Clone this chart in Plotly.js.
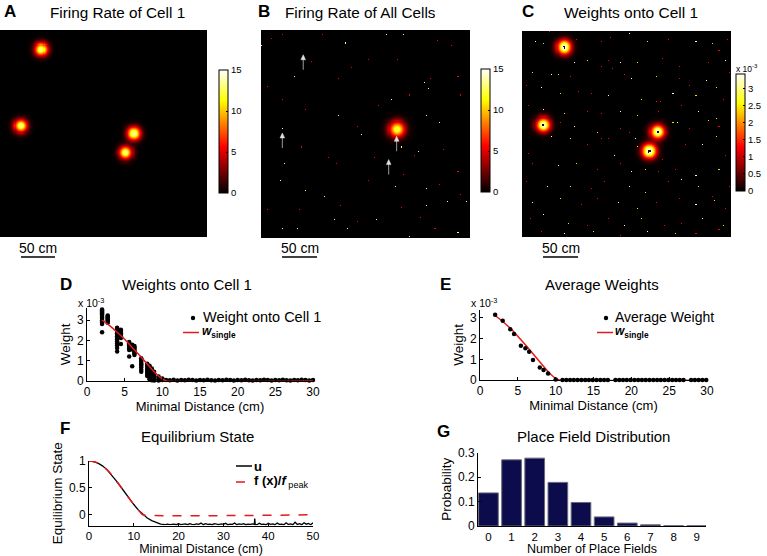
<!DOCTYPE html>
<html><head><meta charset="utf-8">
<script src="https://cdn.plot.ly/plotly-3.0.1.min.js"></script>
<style>html,body{margin:0;padding:0;background:#fff}#chart{width:767px;height:556px}</style>
</head><body><div id="chart"></div>
<script>
// ---------------- DATA ----------------
// Arena coordinates run 0..100 on both axes (y from the top)
const arenaSize = 100;

// Panel A: place fields of cell 1 (arena coordinates, rate Hz)
const fieldAX = [20, 10, 64.7, 60.7];
const fieldAY = [9.3, 46.4, 50, 59.3];
const fieldAPeak = [13.5, 13.5, 13.5, 13.5];
const fieldASigma = [2.2, 2.2, 2.2, 2.2];

// Panel B: population activity bump
const fieldBX = [65.1];
const fieldBY = [47.7];
const fieldBPeak = [12.5];
const fieldBSigma = [2.7];
const specksBBright = [[16,22],[37,41],[48,50],[67,56],[79,41],[80,28],[75,58],[11,64],[9,72],[30,80],[35,91],[17,95],[10,95],[41,95],[55,91],[71,99],[94,97],[89,82],[79,76],[64,75],[62,33],[40,6],[60,2],[78,25],[10,47],[68,2],[85,44],[21,77],[79,84],[98,82],[0,7]];
const specksBDim = [[94,22],[95,31],[5,4],[10,2],[29,2],[51,14],[65,14],[84,5],[91,7],[24,15],[37,23],[43,18],[3,27],[10,33],[21,38],[56,36],[46,46],[19,56],[73,60],[87,57],[32,61],[36,64],[68,69],[51,72],[85,74],[94,68],[3,86],[18,86],[38,84],[67,85],[76,90],[46,92],[83,95],[95,79],[54,61],[71,31],[81,23]];
const arrowBX = [20.2, 10.2, 64.9, 61.1];
const arrowBY = [11.9, 49.5, 51.1, 62.3];

// Panel C: weights onto cell 1 (units of 1e-3)
const fieldCX = [20.2, 10.2, 64.9, 60.9];
const fieldCY = [7.8, 45.5, 48.9, 58.3];
const fieldCPeak = [3.44, 3.44, 3.44, 3.44];
const fieldCSigma = [2.4, 2.4, 2.4, 2.4];
const specksCBright = [[6,5],[51,1],[83,5],[25,15],[47,15],[97,14],[14,21],[52,23],[88,24],[9,27],[41,31],[72,30],[10,38],[47,39],[84,39],[25,46],[54,52],[74,44],[14,51],[44,60],[86,55],[17,65],[52,68],[83,70],[12,75],[51,75],[76,72],[5,83],[46,83],[83,84],[10,89],[49,94],[86,91],[20,98],[60,97]];
const specksCMid = [[10,6],[60,5],[91,6],[31,14],[55,15],[5,20],[17,21],[64,22],[93,27],[18,30],[57,33],[83,31],[20,40],[55,41],[93,42],[36,49],[72,44],[89,43],[23,52],[55,56],[93,51],[26,64],[59,67],[94,67],[23,75],[59,78],[84,75],[18,81],[55,86],[92,82],[22,93],[57,91],[96,94],[34,97],[73,98]];
const specksCRed = [[13,0],[26,4],[38,5],[42,3],[70,4],[94,9],[98,4],[38,17],[41,14],[67,13],[75,17],[89,15],[23,22],[43,18],[49,21],[75,23],[80,26],[99,20],[2,26],[27,29],[33,30],[64,34],[66,34],[96,33],[3,36],[31,39],[38,40],[65,39],[76,36],[18,44],[41,52],[47,47],[51,49],[80,47],[94,46],[3,59],[31,55],[38,52],[67,62],[78,55],[97,60],[5,64],[36,67],[47,64],[65,68],[73,67],[2,73],[33,76],[39,73],[70,73],[91,80],[99,75],[28,84],[36,81],[64,83],[75,81],[97,86],[4,91],[31,94],[41,91],[68,94],[76,93],[9,97],[47,99],[83,98],[94,96]];

// Panel D: weights onto cell 1 vs minimal distance (x 1e-3)
const distD = [2,2,2,2,2,2,2,2,2,2,2,2,2,2,
  2.75,2.75,2.75,2.75,2.75,2.75,2.75,2.75,
  4,4,4,4,4,4,4,4,4,4,4,4,4,4,
  4.5,4.5,4.5,4.5,4.5,4.5,4.5,4.5,
  5.6,5.6,5.6,5.6,5.6,5.6,5.6,5.6,
  6,6,6,6,6,
  6.3,6.3,6.3,6.3,6.3,6.3,6.3,
  7.2,7.2,7.2,7.2,7.2,7.2,7.2,7.2,7.2,
  8,8,8,8,8,8,8,8,8,
  8.3,8.3,8.3,8.3,8.3,8.3,8.3,8.3,8.3,8.3,
  8.6,8.6,8.6,8.6,8.6,8.6,8.6,8.6,8.6,
  8.9,8.9,8.9,8.9,8.9,8.9,8.9,
  9.5,9.5,9.5,9.5,
  10,10,
  10.5,11,11.5,12,12.5,13,13.5,14,14.5,15,15.5,16,16.5,17,17.5,18,18.5,19,19.5,20,
  20.5,21,21.5,22,22.5,23,23.5,24,24.5,25,25.5,26,26.5,27,27.5,28,28.5,29,29.5,30];
const weightD = [3.52,3.47,3.42,3.37,3.32,3.27,3.2,3.12,3.05,2.98,2.92,2.87,2.8,2.4,
  3.22,3.17,3.12,3.07,3.02,2.97,2.92,2.87,
  2.62,2.57,2.5,2.42,2.35,2.28,2.2,2.12,2.05,1.95,1.85,1.75,1.62,1.45,
  2.52,2.47,2.42,2.35,2.28,2.2,2.12,1.82,
  1.92,1.86,1.8,1.74,1.68,1.6,1.53,1.2,
  1.78,1.7,1.62,1.55,0.72,
  1.72,1.65,1.58,1.5,1.42,1.35,1.28,
  1.12,1.05,0.98,0.9,0.82,0.75,0.66,0.55,0.46,
  0.85,0.78,0.7,0.62,0.55,0.48,0.4,0.32,0.24,
  0.75,0.68,0.6,0.52,0.45,0.38,0.3,0.22,0.15,0.08,
  0.62,0.55,0.47,0.4,0.32,0.25,0.18,0.1,0.04,
  0.45,0.38,0.3,0.22,0.15,0.08,0.02,
  0.22,0.15,0.08,0.03,
  0.12,0.05,
  0.05,0.04,0.06,0.03,0.05,0.04,0.06,0.05,0.03,0.05,0.04,0.06,0.04,0.03,0.05,0.04,0.06,0.05,0.03,0.05,
  0.04,0.06,0.04,0.03,0.05,0.04,0.06,0.05,0.03,0.05,0.04,0.06,0.04,0.03,0.05,0.04,0.06,0.05,0.03,0.05];
const wSingleDistD = [2,3,4,5,6,7,8,9,10,10.5,30];
const wSingleD = [3.0,2.72,2.4,2.05,1.65,1.25,0.83,0.42,0.1,0,0];

// Panel E: average weights (x 1e-3)
const distE = [2,3,4,4.5,5.4,6,6.5,7,7.9,8.4,9,10,
  10.9,11.4,11.9,12.4,12.9,13.4,13.9,14.4,14.9,15.4,15.9,16.4,16.9,
  17.9,18.4,18.9,19.4,19.9,20.4,20.9,21.4,21.9,22.4,22.9,23.4,23.9,24.4,24.9,25.4,25.9,26.4,26.9,
  27.9,28.4,28.9,29.4,29.9];
const avgWeightE = [3.15,2.87,2.45,2.23,1.66,1.53,1.37,0.97,0.61,0.48,0.32,0.03,
  0,0,0,0,0,0,0,0,0,0,0,0,0,
  0,0,0,0,0,0,0,0,0,0,0,0,0,0,0,0,0,0,0,
  0,0,0,0,0];
const wSingleDistE = [2,3,4,5,6,7,8,9,10,10.5,30];
const wSingleE = [3.12,2.83,2.5,2.12,1.7,1.27,0.83,0.4,0.08,0,0];

// Panel F: equilibrium state
const distU = [0,1,2,3,4,5,6,7,8,9,10,11,12,13,14,14.5,15,15.5,16,16.5,17,17.5,18,18.5,19,19.5,20,20.5,21,21.5,22,22.5,23,23.5,24,24.5,25,25.5,26,26.5,27,27.5,28,28.5,29,29.5,30,30.5,31,31.5,32,32.5,33,33.5,34,34.5,35,35.5,36,36.5,36.9,37,37.1,37.5,38,38.5,39,39.5,40,40.5,41,41.5,42,42.5,43,43.5,44,44.5,45,45.5,46,46.5,47,47.5,48,48.5,49,49.5,50];
const uValues = [1.0,0.99,0.96,0.91,0.84,0.75,0.64,0.53,0.41,0.30,0.19,0.09,0.01,-0.06,-0.11,-0.13,-0.15,-0.165,-0.175,-0.18,-0.185,-0.175,-0.185,-0.18,-0.175,-0.185,-0.165,-0.185,-0.18,-0.17,-0.185,-0.165,-0.18,-0.185,-0.17,-0.18,-0.155,-0.185,-0.165,-0.18,-0.175,-0.185,-0.165,-0.18,-0.185,-0.17,-0.18,-0.16,-0.185,-0.175,-0.18,-0.155,-0.185,-0.17,-0.18,-0.165,-0.185,-0.175,-0.18,-0.17,-0.18,-0.07,-0.18,-0.185,-0.16,-0.18,-0.175,-0.185,-0.16,-0.18,-0.17,-0.185,-0.155,-0.18,-0.175,-0.185,-0.15,-0.18,-0.17,-0.185,-0.14,-0.18,-0.165,-0.185,-0.15,-0.175,-0.16,-0.185,-0.15];
const distF = [0,1,2,3,4,5,6,7,8,9,10,11,12,50];
const fNormValues = [1.0,0.99,0.96,0.91,0.84,0.75,0.64,0.53,0.41,0.30,0.19,0.09,0,0];

// Panel G: place field distribution
const numFields = [0,1,2,3,4,5,6,7,8,9];
const probFields = [0.135,0.27,0.277,0.178,0.096,0.037,0.012,0.005,0.001,0.001];

// ---------------- BUILD ----------------
const W = 767, H = 556;
const px = v => v / W;
const py = v => 1 - v / H;
const FONT = 'Liberation Sans, Arial, Helvetica, sans-serif';
const N = 200;               // heatmap bins per side
const binSize = arenaSize / N;

function buildGrid(fx, fy, peak, sigma, speckSets, holeRadius) {
  const z = [];
  for (let r = 0; r < N; r++) {
    const yy = (r + 0.5) * binSize;
    const row = [];
    for (let c = 0; c < N; c++) {
      const xx = (c + 0.5) * binSize;
      let v = 0;
      for (let k = 0; k < fx.length; k++) {
        const d2 = (xx - fx[k]) ** 2 + (yy - fy[k]) ** 2;
        if (holeRadius && d2 < holeRadius * holeRadius) { v = 0.1; break; }
        v += peak[k] * Math.exp(-d2 / (2 * sigma[k] * sigma[k]));
      }
      row.push(v);
    }
    z.push(row);
  }
  speckSets.forEach(([list, val]) => list.forEach(([sx, sy]) => {
    const c = Math.min(N - 1, Math.floor(sx / binSize)), r = Math.min(N - 1, Math.floor(sy / binSize));
    z[r][c] = Math.max(z[r][c], val);
  }));
  return z;
}

const hot = [[0,'#000000'],[0.375,'#ff0000'],[0.75,'#ffff00'],[1,'#ffffff']];
function cbar(xPx, yTop, yBot, vals, texts) {
  return {x: px(xPx), xanchor:'left', y: py((yTop + yBot) / 2), yanchor:'middle',
    len: yBot - yTop, lenmode:'pixels', thickness: 9, thicknessmode:'pixels',
    outlinewidth: 1, outlinecolor:'#000', tickvals: vals, ticktext: texts,
    ticks:'inside', ticklen: 2, tickcolor:'#000', tickfont:{size: 9.5, color:'#000', family: FONT},
    xpad: 0, ypad: 0};
}

const zA = buildGrid(fieldAX, fieldAY, fieldAPeak, fieldASigma, [], 0);
const zB = buildGrid(fieldBX, fieldBY, fieldBPeak, fieldBSigma, [[specksBBright, 13], [specksBDim, 5.5]], 0);
const zC = buildGrid(fieldCX, fieldCY, fieldCPeak, fieldCSigma, [[specksCBright, 3.3], [specksCMid, 2.4], [specksCRed, 1.3]], 0.55);

const red = '#e31a1c';
const hm = (z, xa, ya, zmax, cb) => ({type:'heatmap', z: z, x0: binSize / 2, dx: binSize, y0: binSize / 2, dy: binSize,
  xaxis: xa, yaxis: ya, colorscale: hot, zmin: 0, zmax: zmax, zsmooth: false, hoverinfo:'skip', colorbar: cb});
const traces = [
  hm(zA, 'x', 'y', 15, cbar(219, 70, 193, [0,5,10,15], ['0','5','10','15'])),
  hm(zB, 'x2', 'y2', 15, cbar(481, 69, 192, [0,5,10,15], ['0','5','10','15'])),
  hm(zC, 'x3', 'y3', 3.44, cbar(736, 74, 191, [0,0.5,1,1.5,2,2.5,3], ['0','0.5','1','1.5','2','2.5','3'])),
  // D
  {type:'scatter', mode:'markers', x: distD, y: weightD, xaxis:'x4', yaxis:'y4', name:'Weight onto Cell 1',
   marker:{color:'#000', size: 4.5}, showlegend:false, cliponaxis:false},
  {type:'scatter', mode:'lines', x: wSingleDistD, y: wSingleD, xaxis:'x4', yaxis:'y4', showlegend:false,
   line:{color: red, width: 1.5, shape:'spline', smoothing: 0.4}, name:'w single'},
  // E
  {type:'scatter', mode:'lines', x: wSingleDistE, y: wSingleE, xaxis:'x5', yaxis:'y5', showlegend:false,
   line:{color: red, width: 1.5, shape:'spline', smoothing: 0.4}, name:'w single'},
  {type:'scatter', mode:'markers', x: distE, y: avgWeightE, xaxis:'x5', yaxis:'y5', name:'Average Weight',
   marker:{color:'#000', size: 4.5}, showlegend:false, cliponaxis:false},
  // F
  {type:'scatter', mode:'lines', x: distU, y: uValues, xaxis:'x6', yaxis:'y6', name:'u', showlegend:false,
   line:{color:'#000', width: 1.3}},
  {type:'scatter', mode:'lines', x: distF, y: fNormValues, xaxis:'x6', yaxis:'y6', name:'f(x)/f peak', showlegend:false,
   line:{color: red, width: 1.5, dash:'dash', shape:'spline', smoothing: 0.3}},
  // G
  {type:'bar', x: numFields, y: probFields, xaxis:'x7', yaxis:'y7', width: 0.85, showlegend: false,
   marker:{color:'#0c0c4c', line:{color:'#6a6a7a', width: 1}}}
];

const hidden = {visible:false, fixedrange:true};
const axBase = {showgrid:false, zeroline:false, showline:true, linecolor:'#000', linewidth:1,
  ticks:'inside', ticklen: 3, tickcolor:'#000', tickfont:{size: 12, color:'#000', family: FONT}, fixedrange:true};
const bottomTicks = {tickfont:{size: 11.5, color:'#000', family: FONT}, ticklabelstandoff: 0};
function xTitle(t, s, fs) { return {text: t, font:{size: fs || 13, color:'#000', family: FONT}, standoff: s}; }
function yTitle(t) { return {text: t, font:{size: 13.5, color:'#000', family: FONT}, standoff: 3}; }

const layout = {
  width: W, height: H, margin:{l:0, r:0, t:0, b:0}, paper_bgcolor:'#fff', plot_bgcolor:'rgba(0,0,0,0)',
  font:{family: FONT, color:'#000'}, showlegend:false,
  xaxis: Object.assign({domain:[px(0), px(207)], range:[0, 100], anchor:'y'}, hidden),
  yaxis: Object.assign({domain:[py(237), py(30)], range:[100, 0], anchor:'x'}, hidden),
  xaxis2: Object.assign({domain:[px(261), px(470)], range:[0, 100], anchor:'y2'}, hidden),
  yaxis2: Object.assign({domain:[py(238), py(30)], range:[100, 0], anchor:'x2'}, hidden),
  xaxis3: Object.assign({domain:[px(522), px(731)], range:[0, 100], anchor:'y3'}, hidden),
  yaxis3: Object.assign({domain:[py(237), py(31)], range:[100, 0], anchor:'x3'}, hidden),
  xaxis4: Object.assign({}, axBase, {domain:[px(87), px(313)], range:[0, 30], tickvals:[0,5,10,15,20,25,30], anchor:'y4', title: xTitle('Minimal Distance (cm)', 0)}),
  yaxis4: Object.assign({}, axBase, {domain:[py(381), py(307.8)], range:[0, 3.6], tickvals:[0,1,2,3], anchor:'x4', title: yTitle('Weight')}),
  xaxis5: Object.assign({}, axBase, {domain:[px(480), px(707)], range:[0, 30], tickvals:[0,5,10,15,20,25,30], anchor:'y5', title: xTitle('Minimal Distance (cm)', 0)}),
  yaxis5: Object.assign({}, axBase, {domain:[py(380), py(309.7)], range:[0, 3.4], tickvals:[0,1,2,3], anchor:'x5', title: yTitle('Weight')}),
  xaxis6: Object.assign({}, axBase, bottomTicks, {domain:[px(89), px(313)], range:[0, 50], tickvals:[0,10,20,30,40,50], anchor:'y6', title: xTitle('Minimal Distance (cm)', 0, 12.5)}),
  yaxis6: Object.assign({}, axBase, {domain:[py(525.5), py(461)], range:[-0.2, 1], tickvals:[0,0.5,1], ticktext:['0','0.5','1'], anchor:'x6', title: yTitle('Equilibrium State')}),
  xaxis7: Object.assign({}, axBase, bottomTicks, {domain:[px(478), px(706)], range:[-0.45, 9.4], tickvals: numFields, ticks:'',
    anchor:'y7', title: xTitle('Number of Place Fields', 0, 12.5)}),
  yaxis7: Object.assign({}, axBase, {domain:[py(526), py(452.5)], range:[0, 0.3], tickvals:[0,0.1,0.2,0.3], ticktext:['0','0.1','0.2','0.3'], anchor:'x7', title: yTitle('Probability')}),
  shapes: [],
  annotations: []
};

const S = layout.shapes;
const lineP = (x0, y0, x1, y1, color, width, dash) => ({type:'line', xref:'paper', yref:'paper',
  x0: px(x0), x1: px(x1), y0: py(y0), y1: py(y1), line:{color: color, width: width, dash: dash || 'solid'}});
// scale bars
S.push(lineP(21, 257, 55, 257, '#000', 1.5));
S.push(lineP(282, 257, 317, 257, '#000', 1.5));
S.push(lineP(543, 257, 578, 257, '#000', 1.5));
// legend samples
const dot = (cx, cy) => ({type:'circle', xref:'paper', yref:'paper', x0: px(cx - 2.2), x1: px(cx + 2.2),
  y0: py(cy + 2.2), y1: py(cy - 2.2), fillcolor:'#000', line:{width: 0}});
S.push(dot(193, 318));
S.push(lineP(183, 332.5, 199, 332.5, red, 1.5));
S.push(dot(606, 318));
S.push(lineP(597, 332.5, 613, 332.5, red, 1.5));
S.push(lineP(236, 466, 252, 466, '#000', 1.5));
S.push(lineP(236, 482, 252, 482, red, 1.5, 'dash'));
// arrows in B (data coords of the arena)
arrowBX.forEach((ax, i) => {
  const ay = arrowBY[i];
  S.push({type:'line', xref:'x2', yref:'y2', x0: ax, x1: ax, y0: ay + 7.2, y1: ay + 1.8, line:{color:'#9a9a9a', width: 1}});
  S.push({type:'path', xref:'x2', yref:'y2', path:`M ${ax - 1.1} ${ay + 2.4} L ${ax} ${ay} L ${ax + 1.1} ${ay + 2.4} Z`,
    fillcolor:'#e0e0e0', line:{color:'#e0e0e0', width: 0.5}});
});

function ann(x, y, text, size, opts) {
  return Object.assign({xref:'paper', yref:'paper', x: px(x), y: py(y), text: text, showarrow:false,
    xanchor:'center', yanchor:'middle', font:{size: size, color:'#000', family: FONT}}, opts || {});
}
const A = layout.annotations;
// panel letters
[['A',9.5,12],['B',263.5,12],['C',527.5,12],['D',65.5,284],['E',445,284],['F',65,428],['G',443.5,431]]
  .forEach(([t,x,y]) => A.push(ann(x, y, '<b>' + t + '</b>', 17)));
// panel titles
A.push(ann(117, 12.5, 'Firing Rate of Cell 1', 15.3));
A.push(ann(360, 12.5, 'Firing Rate of All Cells', 15.3));
A.push(ann(631, 12.5, 'Weights onto Cell 1', 15.5));
A.push(ann(187, 284, 'Weights onto Cell 1', 15));
A.push(ann(602, 284, 'Average Weights', 15));
A.push(ann(197, 436, 'Equilibrium State', 15));
A.push(ann(593, 436, 'Place Field Distribution', 15));
// scale bar labels
A.push(ann(38, 248, '50 cm', 14));
A.push(ann(299.5, 248, '50 cm', 14));
A.push(ann(560.5, 248, '50 cm', 14));
// exponent labels
A.push(ann(91, 302, 'x 10<sup>-3</sup>', 10.5));
A.push(ann(484, 302, 'x 10<sup>-3</sup>', 10.5));
A.push(ann(747, 68, 'x 10<sup>-3</sup>', 8.5));
// legend texts
const leftA = {xanchor:'left'};
A.push(ann(201, 317, 'Weight onto Cell 1', 14.5, leftA));
A.push(ann(200, 332, '<b><i>w</i></b><sub><b>single</b></sub>', 12, leftA));
A.push(ann(613, 317, 'Average Weight', 14, leftA));
A.push(ann(613, 332, '<b><i>w</i></b><sub><b>single</b></sub>', 12, leftA));
A.push(ann(252, 466, '<b>u</b>', 13, leftA));
A.push(ann(252, 481, '<b>f (x)/<i>f</i></b><sub> peak</sub>', 13, leftA));

Plotly.newPlot('chart', traces, layout, {staticPlot:true, displayModeBar:false});
</script>
</body></html>
